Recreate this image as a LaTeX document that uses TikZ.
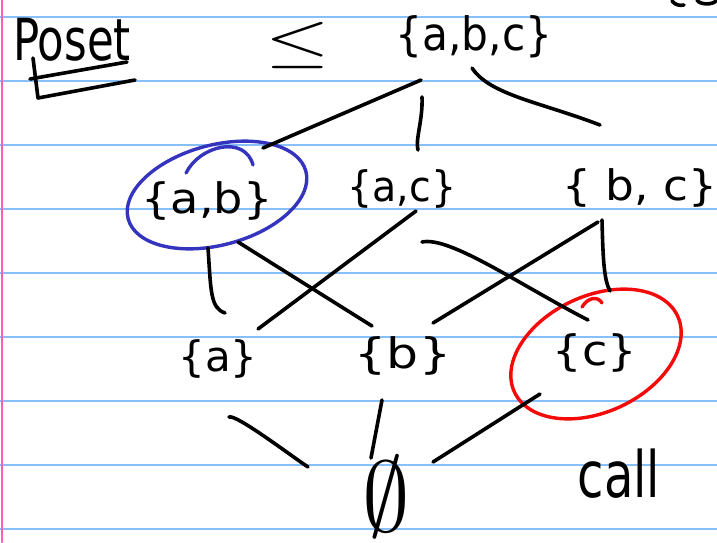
\documentclass[tikz,border=0pt]{standalone}
\usepackage{graphicx}
\usepackage{fontspec}
\newfontfamily\hand{DejaVu Sans}
\definecolor{ruleblue}{RGB}{135,192,248}
\definecolor{marginpink}{RGB}{255,95,180}
\definecolor{circblue}{RGB}{52,52,190}
\definecolor{circred}{RGB}{245,10,10}
\newcommand\hw[3]{\scalebox{#1}[#2]{#3}}
\newcommand\lab[3]{\scalebox{#2}[1]{\fontsize{#1}{#1}\selectfont\hand #3}}
\begin{document}
\begin{tikzpicture}[x=1pt,y=-1pt,line cap=round,line join=round,
  ink/.style={line width=3.6pt,black},
  ruled/.style={line width=2pt,ruleblue},
  marginline/.style={line width=2pt,marginpink},
  lbl/.style={inner sep=0pt,outer sep=0pt},
  blueink/.style={line width=3.4pt,circblue},
  redink/.style={line width=3.4pt,circred}]
\useasboundingbox (0,0) rectangle (717,542);
\fill[white] (0,0) rectangle (717,542);
\foreach \yy in {16.5,80.5,...,528.5} \draw[ruled] (0,\yy) -- (717,\yy);
\draw[marginline] (2,0) -- (2,542);

% texts
\node[lbl] (poset) at (72,40) {\lab{58}{0.75}{Poset}};
\node[lbl] (leq) at (298,45) {\hw{8.3}{6.0}{$\leq$}};
\node[lbl] (abc) at (474,37) {\lab{46}{0.92}{\{a,b,c\}}};
\node[lbl] (ab) at (207,201) {\lab{42}{1.1}{\{a,b\}}};
\node[lbl] (ac) at (402,189) {\lab{42}{0.94}{\{a,c\}}};
\node[lbl] (bc) at (640,188) {\lab{42}{1.08}{\{ b, c\}}};
\node[lbl] (a) at (218,359) {\lab{42}{1.0}{\{a\}}};
\node[lbl] (b) at (403,356) {\lab{42}{1.2}{\{b\}}};
\node[lbl] (c) at (595,353) {\lab{42}{1.1}{\{c\}}};
\node[lbl] (empty) at (386,497) {\hw{9.5}{10}{$\emptyset$}};
\node[lbl] (call) at (619,474) {\lab{64}{0.75}{call}};

% underlines of the title
\draw[ink] (30,79) -- (127,62);
\draw[ink] (33,58) -- (38,98) -- (135,80);

% circles
\draw[blueink, rotate around={15:(217,195)}] (217,195) ellipse (92pt and 50pt);
\draw[blueink] (186,173) .. controls (200,145) and (245,135) .. (253,165);
\draw[redink, rotate around={25:(596,354)}] (596,354) ellipse (90pt and 58pt);
\draw[redink] (582,307) .. controls (588,297) and (598,296) .. (602,303);

% connector end points
\coordinate (abcL) at (421,80);   \coordinate (abL) at (263,148);
\coordinate (abcM) at (422,97);   \coordinate (acT) at (418,150);
\coordinate (abcR) at (472,68);   \coordinate (bcT) at (600,125);
\coordinate (abB1) at (208,248);  \coordinate (aT1) at (225,313);
\coordinate (abB2) at (238,242);  \coordinate (bT1) at (372,326);
\coordinate (acB1) at (416,211);  \coordinate (aT2) at (258,329);
\coordinate (acB2) at (422,242);  \coordinate (cT1) at (588,320);
\coordinate (bcB1) at (598,222);  \coordinate (bT2) at (433,323);
\coordinate (bcB2) at (602,220);  \coordinate (cT2) at (610,291);
\coordinate (aB) at (229,417);    \coordinate (eL) at (308,467);
\coordinate (bB) at (382,400);    \coordinate (eM) at (371,458);
\coordinate (cB) at (540,394);    \coordinate (eR) at (433,462);

% connectors
\draw[ink] (abcL) -- (abL);
\draw[ink] (abcM) .. controls (423,120) and (415,140) .. (acT);
\draw[ink] (abcR) .. controls (490,95) and (540,102) .. (bcT);
\draw[ink] (abB1) .. controls (211,290) and (210,308) .. (aT1);
\draw[ink] (abB2) -- (bT1);
\draw[ink] (acB1) -- (aT2);
\draw[ink] (acB2) .. controls (450,236) and (520,285) .. (cT1);
\draw[ink] (bcB1) -- (bT2);
\draw[ink] (bcB2) .. controls (603,260) and (604,280) .. (cT2);
\draw[ink] (aB) .. controls (236,414) and (290,455) .. (eL);
\draw[ink] (bB) -- (eM);
\draw[ink] (cB) -- (eR);

% cut-off handwriting at the top right
\draw[ink] (672,1) .. controls (675,5) and (680,6) .. (684,5);
\draw[ink] (697,0) .. controls (700,5) and (712,5) .. (716,1);
\end{tikzpicture}
\end{document}
